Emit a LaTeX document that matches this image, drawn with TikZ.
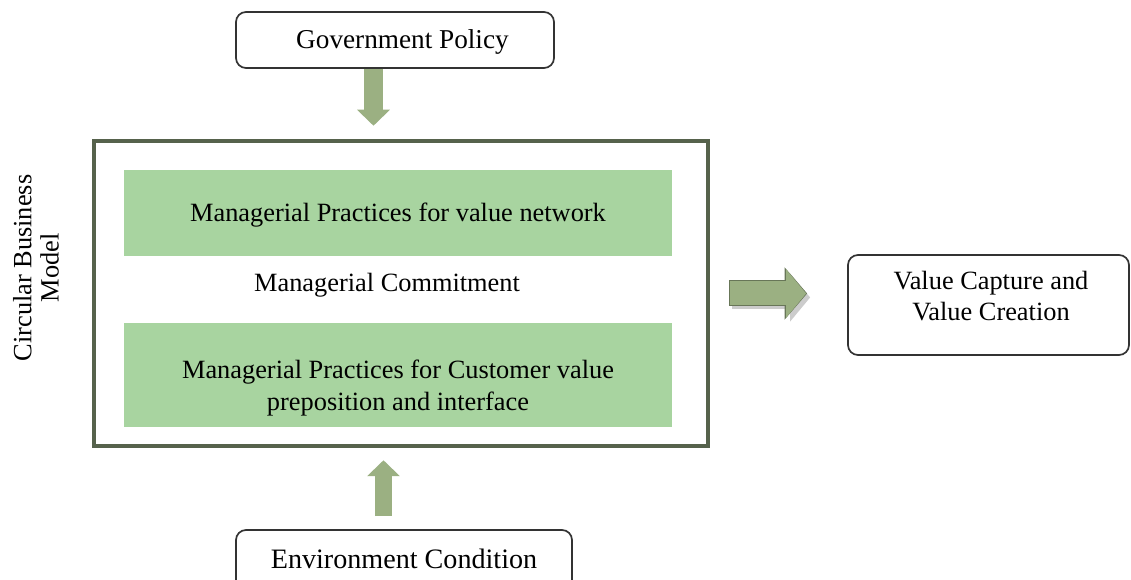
\documentclass[tikz,border=0pt]{standalone}
\usepackage{fontspec}
\setmainfont{Liberation Serif}
\usetikzlibrary{arrows.meta,calc}
\definecolor{boxgreen}{RGB}{168,212,160}
\definecolor{arrowgreen}{RGB}{155,176,130}
\definecolor{arrowedge}{RGB}{104,118,88}
\definecolor{framegrey}{RGB}{86,98,76}

\begin{document}
\begin{tikzpicture}[x=0.2mm, y=-0.2mm, font=\fontsize{15}{18}\selectfont,
	capcentre/.style={text height=1em, text depth=0pt},
	outerbox/.style={draw=black!80, line width=0.34mm, rounded corners=2mm, align=center, capcentre},
	practice/.style={fill=boxgreen, minimum width=109.6mm, align=center},
	fatarrow/.style={draw=arrowgreen, line width=3.8mm, -{Triangle[width=6.4mm, length=3.2mm]}},
	widearrow/.style={line width=4.8mm, -{Triangle[width=9.4mm, length=4mm]}, shorten <=3.8mm, shorten >=8mm}]
	\clip (0,0) rectangle (1131,580);
	% boxes around the model
	\node[outerbox, minimum width=63.6mm, minimum height=11.2mm, font=\fontsize{15.5}{18}\selectfont] (gov) at (395,40) {\hspace*{3mm}Government Policy};
	\node[outerbox, minimum width=67.2mm, minimum height=12mm, font=\fontsize{16}{19}\selectfont] (env) at (404,560) {Environment Condition};
	\node[outerbox, minimum width=56.2mm, minimum height=20mm] (value) at (988.5,305) {};
	\node[align=center] (valuetext) at (991,296) {Value Capture and\\Value Creation};
	% the model itself
	\node[draw=framegrey, line width=0.9mm, minimum width=122.8mm, minimum height=61mm] (frame) at (401,293.5) {};
	\node[practice, capcentre, minimum height=17.2mm] (network) at (398,213) {Managerial Practices for value network};
	\node[capcentre] (commit) at (387,283) {Managerial Commitment};
	\node[practice, minimum height=20.8mm,
		label={[align=center, yshift=-2.6mm]center:Managerial Practices for Customer value\\preposition and interface}] (customer) at (398,375) {};
	\node[rotate=90, align=center, font=\fontsize{15}{15.5}\selectfont] (cbm) at (36,268) {Circular Business\\Model};
	% arrows
	\draw[fatarrow, shorten >=2.6mm] ($(gov.south)+(-21.5,0)$) -- ($(gov.south |- frame.north)+(-21.5,0)$);
	\draw[fatarrow, line width=3.4mm, shorten <=2.6mm, shorten >=2.4mm] ($(env.north)+(-20.5,0)$) -- ($(env.north |- frame.south)+(-20.5,0)$);
	\draw[widearrow, draw=black!20] ($(frame.east)+(3,4)$) -- ($(value.west |- frame.east)+(3,4)$);
	\draw[widearrow, draw=arrowedge, line width=5.2mm, -{Triangle[width=10.2mm, length=4.5mm]}] (frame.east) -- (value.west |- frame.east);
	\draw[widearrow, draw=arrowgreen, shorten <=4mm, shorten >=8.2mm] (frame.east) -- (value.west |- frame.east);
\end{tikzpicture}
\end{document}
